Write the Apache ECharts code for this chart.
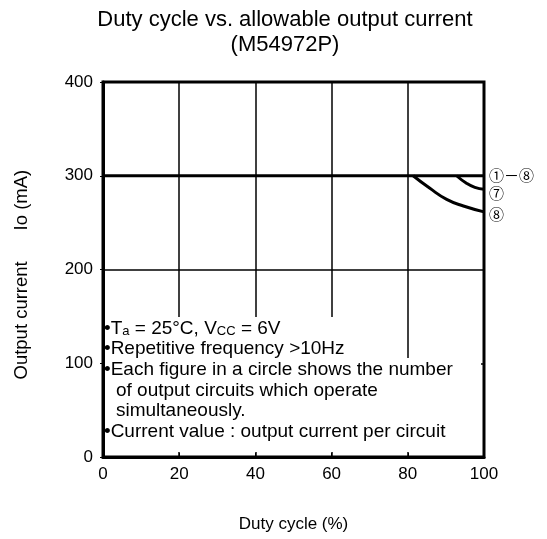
<!DOCTYPE html>
<html>
<head>
<meta charset="utf-8">
<script src="https://cdn.jsdelivr.net/npm/echarts@6/dist/echarts.min.js"></script>
<style>
    html, body { margin: 0; padding: 0; background: #fff; }
    #main { width: 547px; height: 539px; }
</style>
</head>
<body>
<div id="main"></div>
<script>
    // 軸の目盛
    var dutyTicks = [0, 20, 40, 60, 80, 100]
    var currentTicks = [0, 100, 200, 300, 400]

    // 回路数ごとの許容電流
    var seriesNames = ['①－⑧', '⑦', '⑧']
    var allDuty = [0, 100]
    var allCurrent = [300, 300]
    var sevenDuty = [92.8, 95.4, 97.6, 100]
    var sevenCurrent = [300, 292, 287.6, 285.5]
    var eightDuty = [81.4, 85.8, 90.2, 94.6, 100]
    var eightCurrent = [300, 286.6, 274.8, 267.7, 261.5]

    // 注記
    var notes = [
        '•T{s|a} = 25°C, V{s|CC} = 6V',
        '•Repetitive frequency >10Hz',
        '•Each figure in a circle shows the number',
        'of output circuits which operate',
        'simultaneously.',
        '•Current value : output current per circuit'
    ]
    var noteIndent = [false, false, false, true, true, false]

    function pairs (xs, ys) {
        return xs.map(function (x, i) { return [x, ys[i]] })
    }

    var FONT = '"Liberation Sans", Arial, sans-serif'
    var myChart = echarts.init(document.getElementById('main'))

    var lineSeries = [
        [allDuty, allCurrent, [0, 0]],
        [sevenDuty, sevenCurrent, [0, 4]],
        [eightDuty, eightCurrent, [0, 2]]
    ].map(function (s, i) {
        return {
            name: seriesNames[i],
            type: 'line',
            data: pairs(s[0], s[1]),
            smooth: i > 0,
            symbol: 'none',
            lineStyle: { color: '#000', width: 3 },
            endLabel: {
                show: true,
                formatter: '{a}',
                color: '#000',
                fontSize: 15,
                fontFamily: '"Noto Sans CJK JP", "DejaVu Sans", sans-serif',
                distance: 5,
                offset: s[2]
            },
            z: 5
        }
    })

    var graphics = [
        // 注記の背景（格子を隠す）
        { type: 'rect', left: 105, top: 317, shape: { width: 296, height: 42 }, style: { fill: '#fff' }, z: 10 },
        { type: 'rect', left: 105, top: 358, shape: { width: 376, height: 94 }, style: { fill: '#fff' }, z: 10 }
    ]
    notes.forEach(function (t, i) {
        graphics.push({
            type: 'text',
            left: noteIndent[i] ? 116 : 104,
            top: 319 + i * 20.6,
            z: 11,
            style: {
                text: t,
                fill: '#000',
                font: '19px ' + FONT,
                rich: {
                    s: { fontSize: 13, fontFamily: FONT, verticalAlign: 'bottom', padding: [5, 0, 0, 0] }
                }
            }
        })
    })

    var option = {
        animation: false,
        backgroundColor: '#fff',
        title: {
            text: 'Duty cycle vs. allowable output current\n(M54972P)',
            left: 280,
            textAlign: 'center',
            top: 2,
            textStyle: { color: '#000', fontSize: 22, fontWeight: 'normal', fontFamily: FONT, lineHeight: 25 }
        },
        grid: {
            left: 103, top: 82, right: 63, bottom: 82,
            show: true, borderColor: '#000', borderWidth: 3
        },
        xAxis: {
            type: 'value',
            min: dutyTicks[0],
            max: dutyTicks[dutyTicks.length - 1],
            interval: dutyTicks[1] - dutyTicks[0],
            name: 'Duty cycle (%)',
            nameLocation: 'middle',
            nameGap: 59,
            nameTextStyle: { color: '#000', fontSize: 17, fontFamily: FONT },
            axisLine: { lineStyle: { color: '#000', width: 3 } },
            axisTick: { show: true, inside: true, length: 4, lineStyle: { color: '#000', width: 1 } },
            axisLabel: { color: '#000', fontSize: 17, fontFamily: FONT, margin: 9 },
            splitLine: { show: true, lineStyle: { color: '#000', width: 1.5 } }
        },
        yAxis: {
            type: 'value',
            min: currentTicks[0],
            max: currentTicks[currentTicks.length - 1],
            interval: currentTicks[1] - currentTicks[0],
            name: 'Output current      Io (mA)  ',
            nameLocation: 'middle',
            nameGap: 72,
            nameTextStyle: { color: '#000', fontSize: 18.5, fontFamily: FONT },
            axisLine: { lineStyle: { color: '#000', width: 3 } },
            axisTick: { show: true, length: 3, lineStyle: { color: '#000', width: 1 } },
            axisLabel: { color: '#000', fontSize: 17, fontFamily: FONT, margin: 10 },
            splitLine: { show: true, lineStyle: { color: '#000', width: 1.5 } }
        },
        graphic: graphics,
        series: lineSeries
    }
    myChart.setOption(option)
</script>
</body>
</html>
